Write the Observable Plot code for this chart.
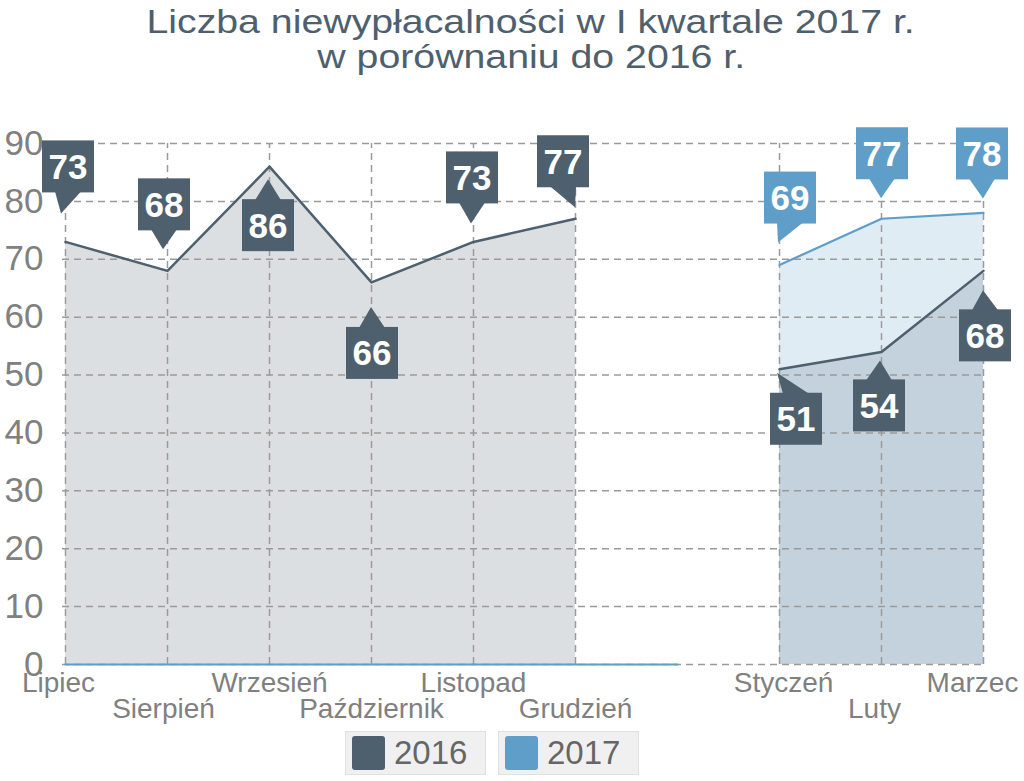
<!DOCTYPE html>
<html>
<head>
<meta charset="utf-8">
<script src="https://cdn.jsdelivr.net/npm/d3@7"></script>
<script src="https://cdn.jsdelivr.net/npm/@observablehq/plot@0.6"></script>
<style>
  body { margin: 0; background: #fff; font-family: "Liberation Sans", Arial, sans-serif; }
  #title { height: 100px; box-sizing: border-box; padding-top: 4px; padding-left: 38px; width: 1024px;
           text-align: center; color: #4e5f6d; font-size: 34px; line-height: 35px; }
  #title span { display: inline-block; transform: scaleX(1.155); white-space: nowrap; }
  #chart { position: relative; }
  #legend { position: absolute; top: 731px; left: 345px; display: flex; gap: 12px; }
  .item { display: flex; align-items: center; background: #f0f0f0; border: 1px solid #e0e0e0;
          height: 44px; width: 141px; padding: 0 0 0 6px; box-sizing: border-box; font-size: 33px; color: #666; }
  .sw { width: 33px; height: 34px; border-radius: 3px; margin-right: 9px; }
</style>
</head>
<body>
<div id="title"><span>Liczba niewypłacalności w I kwartale 2017 r.</span><br><span>w porównaniu do 2016 r.</span></div>
<div id="chart"></div>
<div id="legend"></div>
<script>
// ---- data ----
const months = ["Lipiec", "Sierpień", "Wrzesień", "Październik", "Listopad", "Grudzień", "", "Styczeń", "Luty", "Marzec"];
const values2016 = [73, 68, 86, 66, 73, 77, null, 51, 54, 68];
const values2017 = [0, 0, 0, 0, 0, 0, 0, 69, 77, 78];
const yTicks = [0, 10, 20, 30, 40, 50, 60, 70, 80, 90];
const seriesNames = ["2016", "2017"];

// ---- styling / layout ----
const colors = { "2016": "#4e5f6e", "2017": "#5f9ec9" };
const labelRow = [1, 2, 1, 2, 1, 2, 1, 1, 2, 1];
const labelShift = [-7, -4, 0, 0, 0, 0, 0, 4, -7, -11];
// callout placement: [box dx, box dy, tip dx, tip dy] relative to the point
const layout2016 = [[3,-75,-4,-28],[-3,-66,-4,-21],[-1,59,-1,13],[1,71,0,25],[-1,-64,-2,-18],[-12,-57,0,-11],null,[17,50,-2,4],[-2,54,-1,9],[2,65,0,20]];
const layout2017 = [null,null,null,null,null,null,null,[11,-67,-1,-22],[1,-65,0,-20],[-1,-59,0,-14]];

const rows2016 = months.map((m, i) => ({ month: m, value: values2016[i], part: i < 6 ? "a" : "b" }))
  .filter(d => d.value != null);
const rows2017 = months.map((m, i) => ({ month: m, value: values2017[i], part: i <= 6 ? "a" : "b" }));
const area2017 = rows2017.filter(d => d.part === "b");
const gridMonths = months.filter(m => m !== "");
const labels = months.map((m, i) => ({ month: m, row: labelRow[i], shift: labelShift[i] })).filter(d => d.month);

const callouts = [];
months.forEach((m, i) => {
  if (layout2016[i] && values2016[i] != null) callouts.push({ month: m, value: values2016[i], series: "2016", l: layout2016[i] });
  if (layout2017[i]) callouts.push({ month: m, value: values2017[i], series: "2017", l: layout2017[i] });
});

function calloutMark(items) {
  return (index, scales) => {
    const ns = "http://www.w3.org/2000/svg";
    const g = document.createElementNS(ns, "g");
    const w = 52, h = 52;
    for (const c of items) {
      const px = scales.x(c.month), py = scales.y(c.value);
      const [dx, dy, tdx, tdy] = c.l;
      const cx = px + dx, cy = py + dy, tx = px + tdx, ty = py + tdy;
      const edgeY = dy < 0 ? cy + h / 2 - 1 : cy - h / 2 + 1;
      const poly = document.createElementNS(ns, "polygon");
      poly.setAttribute("points", `${cx - 13},${edgeY} ${tx},${ty} ${cx + 13},${edgeY}`);
      poly.setAttribute("fill", colors[c.series]);
      g.appendChild(poly);
      const r = document.createElementNS(ns, "rect");
      r.setAttribute("x", cx - w / 2); r.setAttribute("y", cy - h / 2);
      r.setAttribute("width", w); r.setAttribute("height", h);
      r.setAttribute("fill", colors[c.series]);
      g.appendChild(r);
      const t = document.createElementNS(ns, "text");
      t.setAttribute("x", cx); t.setAttribute("y", cy + 12.5);
      t.setAttribute("text-anchor", "middle");
      t.setAttribute("font-size", "35");
      t.setAttribute("font-weight", "bold");
      t.setAttribute("fill", "#fff");
      t.setAttribute("font-family", "Liberation Sans, Arial, sans-serif");
      t.textContent = String(c.value);
      g.appendChild(t);
    }
    return g;
  };
}

function labelMark(items, dy) {
  return items.map(d => Plot.text([d], { x: "month", y: () => 0, text: "month", dx: d.shift, dy, fontSize: 28, fill: "#808080" }));
}

const chart = Plot.plot({
  width: 1024,
  height: 630,
  marginTop: 43,
  marginBottom: 66,
  marginLeft: 62,
  marginRight: 39,
  style: { fontFamily: "Liberation Sans, Arial, sans-serif", background: "#fff", overflow: "visible" },
  x: { type: "point", domain: months, padding: 0, axis: null },
  y: { domain: [0, 90], axis: null },
  marks: [
    Plot.areaY(rows2016, { x: "month", y: "value", z: "part", fill: colors["2016"], fillOpacity: 0.2 }),
    Plot.areaY(area2017, { x: "month", y: "value", fill: colors["2017"], fillOpacity: 0.2 }),
    Plot.ruleY(yTicks, { stroke: "#9a9a9a", strokeWidth: 1.5, strokeDasharray: "7,5" }),
    Plot.ruleX(gridMonths, { y1: 0, y2: 90, stroke: "#9a9a9a", strokeWidth: 1.5, strokeDasharray: "7,5" }),
    Plot.lineY(rows2017, { x: "month", y: "value", z: "part", stroke: colors["2017"], strokeWidth: 2.2 }),
    Plot.lineY(rows2016, { x: "month", y: "value", z: "part", stroke: colors["2016"], strokeWidth: 2.5 }),
    Plot.axisY(yTicks, { tickSize: 0, tickPadding: 19, fontSize: 35, color: "#808080", label: null }),
    ...labelMark(labels.filter(d => d.row === 1), 19),
    ...labelMark(labels.filter(d => d.row === 2), 45),
    calloutMark(callouts)
  ]
});
document.getElementById("chart").appendChild(chart);

const legend = document.getElementById("legend");
for (const s of seriesNames) {
  const it = document.createElement("div");
  it.className = "item";
  it.innerHTML = `<span class="sw" style="background:${colors[s]}"></span>${s}`;
  legend.appendChild(it);
}
</script>
</body>
</html>
